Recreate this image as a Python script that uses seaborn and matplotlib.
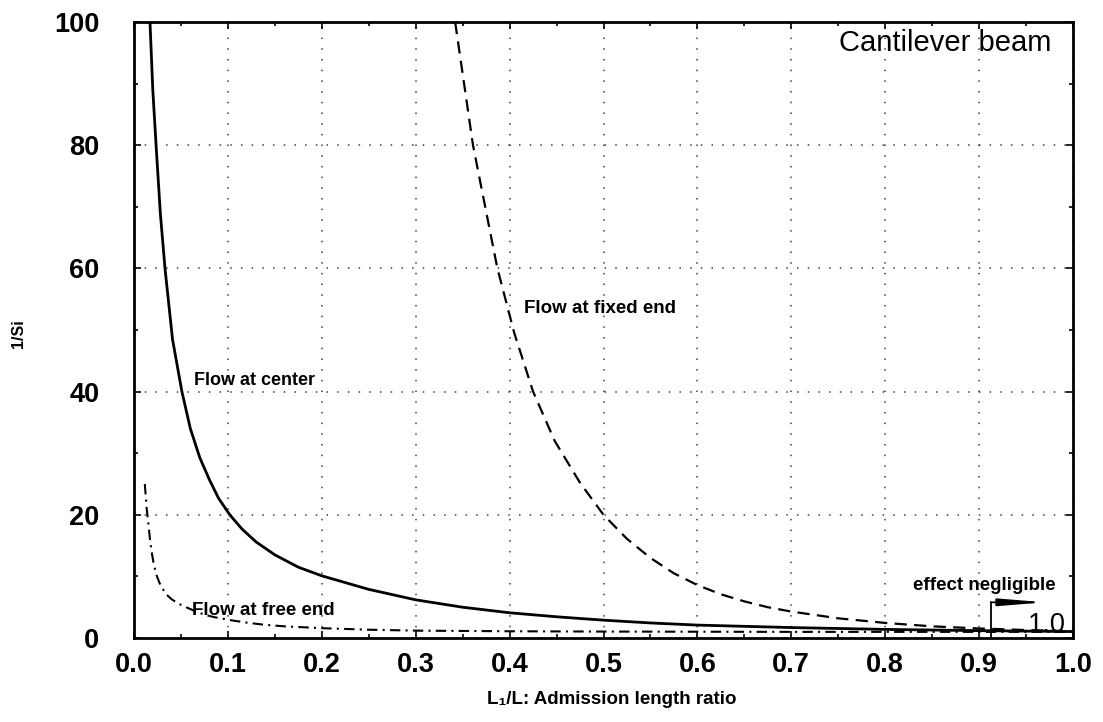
import matplotlib
matplotlib.use("Agg")
import matplotlib.pyplot as plt
from matplotlib.ticker import MultipleLocator
import seaborn as sns
import pandas as pd

# Admission length ratio L1/L and the resulting 1/Si for each flow position
center_x = [0.017, 0.020, 0.0235, 0.028, 0.033, 0.041, 0.051, 0.060, 0.070, 0.080,
            0.090, 0.102, 0.115, 0.130, 0.150, 0.175, 0.200, 0.250, 0.300, 0.350,
            0.400, 0.450, 0.500, 0.550, 0.600, 0.700, 0.800, 0.900, 1.000]
center_y = [100, 89, 80, 69, 60, 48.5, 40, 34, 29.3, 25.8,
            22.7, 20, 17.7, 15.6, 13.5, 11.5, 10.1, 7.9, 6.2, 5.0,
            4.1, 3.45, 2.9, 2.45, 2.1, 1.7, 1.4, 1.2, 1.05]

fixed_x = [0.342, 0.361, 0.387, 0.405, 0.425, 0.448, 0.475, 0.500, 0.525, 0.550,
           0.575, 0.600, 0.625, 0.650, 0.675, 0.700, 0.750, 0.800, 0.850, 0.900,
           0.950, 1.000]
fixed_y = [100, 80, 60, 49.5, 40, 32, 25.2, 20, 16.1, 13.0,
           10.5, 8.6, 7.1, 5.95, 5.0, 4.3, 3.2, 2.45, 1.9, 1.55,
           1.3, 1.1]

free_x = [0.0115, 0.0125, 0.0135, 0.015, 0.017, 0.019, 0.021, 0.024, 0.027, 0.030,
          0.035, 0.040, 0.047, 0.057, 0.066, 0.075, 0.085, 0.092, 0.105, 0.120,
          0.139, 0.160, 0.180, 0.200, 0.250, 0.300, 0.400, 0.500, 0.700, 1.000]
free_y = [25, 23, 21, 19, 16, 13.8, 12.0, 10.2, 9.0, 8.1,
          7.0, 6.3, 5.6, 4.9, 4.3, 3.8, 3.4, 3.2, 2.85, 2.5,
          2.15, 1.9, 1.75, 1.6, 1.35, 1.2, 1.1, 1.05, 1.0, 1.0]

x_ticks = [0.0, 0.1, 0.2, 0.3, 0.4, 0.5, 0.6, 0.7, 0.8, 0.9, 1.0]
x_tick_labels = ["0.0", "0.1", "0.2", "0.3", "0.4", "0.5", "0.6", "0.7", "0.8", "0.9", "1.0"]
y_ticks = [0, 20, 40, 60, 80, 100]
y_tick_labels = ["0", "20", "40", "60", "80", "100"]

# region beyond which the admission length has no effect
negligible_start = 0.913
negligible_level = 5.8
negligible_arrow_end = 0.970

sns.set_theme(style="ticks")
plt.rcParams["font.family"] = ["Liberation Sans", "DejaVu Sans"]
plt.rcParams["text.color"] = "black"
plt.rcParams["xtick.color"] = "black"
plt.rcParams["ytick.color"] = "black"
plt.rcParams["xtick.labelcolor"] = "black"
plt.rcParams["ytick.labelcolor"] = "black"

fig = plt.figure(figsize=(11.03, 7.22), dpi=100)
ax = fig.add_axes([0.1215, 0.1163, 0.8513, 0.8532])

df_center = pd.DataFrame({"ratio": center_x, "inv_si": center_y})
df_fixed = pd.DataFrame({"ratio": fixed_x, "inv_si": fixed_y})
df_free = pd.DataFrame({"ratio": free_x, "inv_si": free_y})

sns.lineplot(data=df_center, x="ratio", y="inv_si", color="black", lw=2.0,
             estimator=None, sort=False, ax=ax)
sns.lineplot(data=df_fixed, x="ratio", y="inv_si", color="black", lw=1.6,
             estimator=None, sort=False, ax=ax)
ax.lines[-1].set_dashes([5.5, 3.3])
sns.lineplot(data=df_free, x="ratio", y="inv_si", color="black", lw=1.5,
             estimator=None, sort=False, ax=ax)
ax.lines[-1].set_dashes([5, 2.5, 1, 2.5])

ax.set_xlim(0, 1)
ax.set_ylim(0, 100)
ax.set_xticks(x_ticks)
ax.set_xticklabels(x_tick_labels, fontsize=19.5, fontweight="bold")
ax.set_yticks(y_ticks)
ax.set_yticklabels(y_tick_labels, fontsize=19.5, fontweight="bold")
ax.xaxis.set_minor_locator(MultipleLocator(0.05))
ax.yaxis.set_minor_locator(MultipleLocator(10))
ax.tick_params(which="both", direction="in", top=True, right=True,
               color="black", width=1.2)
ax.tick_params(which="major", length=5)
ax.tick_params(which="minor", length=3)
ax.tick_params(axis="x", which="major", pad=10)
ax.tick_params(axis="y", which="major", pad=25)

ax.grid(True, which="major", color="0.25", linestyle=(0, (1, 6)), lw=1.1)
for side in ax.spines.values():
    side.set_linewidth(2.0)
    side.set_color("black")

ax.set_xlabel("")
ax.set_ylabel("")
fig.text(612 / 1103, 1 - 700 / 722, "L\u2081/L: Admission length ratio",
         ha="center", va="center", fontsize=13.5, fontweight="bold")
fig.text(19 / 1103, 1 - 334 / 722, "1/Si", rotation=90,
         ha="center", va="center", fontsize=11.5, fontweight="bold")

ax.text(0.864, 95.3, "Cantilever beam", ha="center", va="baseline", fontsize=21)
ax.text(0.064, 41.0, "Flow at center", ha="left", va="baseline",
        fontsize=13, fontweight="bold")
ax.text(0.415, 52.8, "Flow at fixed end", ha="left", va="baseline",
        fontsize=13.5, fontweight="bold")
ax.text(0.062, 3.7, "Flow at free end", ha="left", va="baseline",
        fontsize=13.5, fontweight="bold")
ax.text(0.906, 7.8, "effect negligible", ha="center", va="baseline",
        fontsize=13.5, fontweight="bold")
ax.text(0.972, 1.0, "1.0", ha="center", va="baseline", fontsize=19.5)

ax.plot([negligible_start, negligible_start], [0, negligible_level],
        color="black", lw=1.3)
ax.annotate("", xy=(negligible_arrow_end, negligible_level),
            xytext=(negligible_start, negligible_level),
            arrowprops=dict(arrowstyle="-|>,head_length=2.7,head_width=0.22",
                            mutation_scale=10, color="black", lw=1.3,
                            shrinkA=0, shrinkB=0))

fig.savefig("out.png", dpi=100)
